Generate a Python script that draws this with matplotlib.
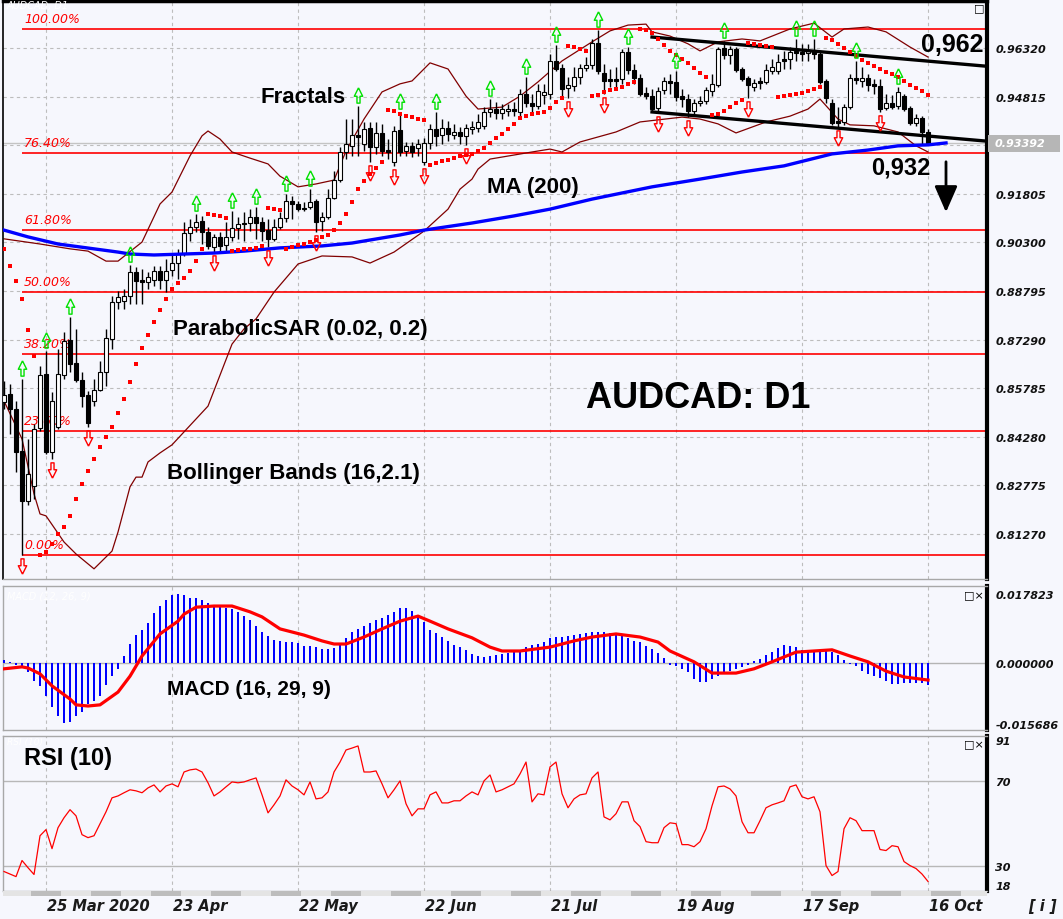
import matplotlib
matplotlib.use("Agg")
import matplotlib.pyplot as plt
import matplotlib.transforms as mtransforms
from matplotlib.path import Path
from matplotlib.patches import Rectangle, FancyArrowPatch
import numpy as np

# ---------------- data ----------------
open_ = [0.8536, 0.8560, 0.8514, 0.8384, 0.8229, 0.8276, 0.8455, 0.8622, 0.8381, 0.8458,
         0.8619, 0.8728, 0.8656, 0.8604, 0.8557, 0.8539, 0.8573, 0.8628, 0.8731, 0.8845,
         0.8848, 0.8864, 0.8938, 0.8913, 0.8907, 0.8913, 0.8941, 0.8913, 0.8944, 0.8966,
         0.8997, 0.9059, 0.9078, 0.9096, 0.9062, 0.9016, 0.9047, 0.9022, 0.9047, 0.9075,
         0.9090, 0.9090, 0.9109, 0.9093, 0.9068, 0.9041, 0.9078, 0.9106, 0.9158, 0.9149,
         0.9137, 0.9140, 0.9158, 0.9096, 0.9109, 0.9167, 0.9223, 0.9310, 0.9329, 0.9363,
         0.9335, 0.9384, 0.9325, 0.9369, 0.9316, 0.9279, 0.9378, 0.9313, 0.9329, 0.9322,
         0.9279, 0.9338, 0.9381, 0.9363, 0.9384, 0.9363, 0.9372, 0.9360, 0.9381, 0.9384,
         0.9390, 0.9434, 0.9443, 0.9431, 0.9437, 0.9443, 0.9434, 0.9490, 0.9462, 0.9452,
         0.9486, 0.9490, 0.9592, 0.9570, 0.9508, 0.9514, 0.9542, 0.9570, 0.9579, 0.9648,
         0.9555, 0.9536, 0.9536, 0.9536, 0.9620, 0.9564, 0.9539, 0.9493, 0.9483, 0.9446,
         0.9502, 0.9530, 0.9527, 0.9483, 0.9474, 0.9437, 0.9462, 0.9468, 0.9499, 0.9517,
         0.9632, 0.9610, 0.9629, 0.9567, 0.9539, 0.9511, 0.9527, 0.9527, 0.9561, 0.9561,
         0.9598, 0.9598, 0.9620, 0.9620, 0.9617, 0.9623, 0.9614, 0.9530, 0.9462, 0.9403,
         0.9403, 0.9449, 0.9539, 0.9530, 0.9539, 0.9520, 0.9514, 0.9446, 0.9462, 0.9452,
         0.9483, 0.9446, 0.9400, 0.9415, 0.9372]
high = [0.8601, 0.8591, 0.8539, 0.8607, 0.8421, 0.8468, 0.8647, 0.8694, 0.8567, 0.8700,
        0.8752, 0.8799, 0.8762, 0.8628, 0.8570, 0.8607, 0.8663, 0.8762, 0.8864, 0.8880,
        0.8886, 0.8960, 0.8954, 0.8948, 0.8938, 0.8957, 0.8957, 0.8979, 0.8994, 0.9010,
        0.9093, 0.9103, 0.9118, 0.9112, 0.9078, 0.9056, 0.9062, 0.9093, 0.9127, 0.9109,
        0.9124, 0.9133, 0.9140, 0.9109, 0.9103, 0.9103, 0.9124, 0.9180, 0.9174, 0.9158,
        0.9155, 0.9195, 0.9164, 0.9124, 0.9195, 0.9251, 0.9326, 0.9412, 0.9412, 0.9452,
        0.9403, 0.9403, 0.9403, 0.9397, 0.9350, 0.9390, 0.9434, 0.9341, 0.9341, 0.9350,
        0.9353, 0.9397, 0.9434, 0.9412, 0.9406, 0.9397, 0.9387, 0.9397, 0.9406, 0.9428,
        0.9449, 0.9474, 0.9465, 0.9458, 0.9458, 0.9465, 0.9505, 0.9542, 0.9490, 0.9521,
        0.9521, 0.9614, 0.9641, 0.9583, 0.9542, 0.9573, 0.9583, 0.9604, 0.9660, 0.9688,
        0.9583, 0.9567, 0.9573, 0.9629, 0.9635, 0.9583, 0.9552, 0.9511, 0.9505, 0.9511,
        0.9542, 0.9552, 0.9561, 0.9505, 0.9490, 0.9474, 0.9483, 0.9511, 0.9552, 0.9635,
        0.9654, 0.9638, 0.9635, 0.9573, 0.9545, 0.9536, 0.9542, 0.9583, 0.9598, 0.9614,
        0.9623, 0.9635, 0.9660, 0.9645, 0.9645, 0.9660, 0.9623, 0.9536, 0.9474, 0.9449,
        0.9458, 0.9552, 0.9592, 0.9573, 0.9552, 0.9536, 0.9536, 0.9490, 0.9486, 0.9511,
        0.9490, 0.9452, 0.9428, 0.9421, 0.9381]
low = [0.8514, 0.8437, 0.8319, 0.8062, 0.8217, 0.8235, 0.8446, 0.8375, 0.8359, 0.8452,
       0.8607, 0.8628, 0.8598, 0.8520, 0.8458, 0.8523, 0.8570, 0.8585, 0.8700, 0.8824,
       0.8824, 0.8839, 0.8839, 0.8839, 0.8886, 0.8895, 0.8886, 0.8876, 0.8926, 0.8917,
       0.8988, 0.9034, 0.9062, 0.9025, 0.9010, 0.9000, 0.9003, 0.9003, 0.9034, 0.9041,
       0.9034, 0.9065, 0.9041, 0.9034, 0.9016, 0.9034, 0.9072, 0.9093, 0.9103, 0.9127,
       0.9127, 0.9133, 0.9062, 0.9065, 0.9103, 0.9164, 0.9217, 0.9288, 0.9298, 0.9298,
       0.9313, 0.9279, 0.9304, 0.9298, 0.9288, 0.9267, 0.9298, 0.9298, 0.9295, 0.9298,
       0.9270, 0.9319, 0.9329, 0.9335, 0.9344, 0.9350, 0.9335, 0.9332, 0.9366, 0.9372,
       0.9381, 0.9418, 0.9412, 0.9412, 0.9421, 0.9421, 0.9418, 0.9449, 0.9428, 0.9443,
       0.9459, 0.9474, 0.9561, 0.9483, 0.9477, 0.9499, 0.9521, 0.9561, 0.9567, 0.9552,
       0.9490, 0.9511, 0.9511, 0.9521, 0.9552, 0.9521, 0.9483, 0.9474, 0.9434, 0.9431,
       0.9490, 0.9490, 0.9468, 0.9449, 0.9418, 0.9424, 0.9452, 0.9459, 0.9483, 0.9511,
       0.9598, 0.9583, 0.9558, 0.9530, 0.9477, 0.9499, 0.9505, 0.9521, 0.9552, 0.9552,
       0.9567, 0.9567, 0.9592, 0.9592, 0.9592, 0.9598, 0.9521, 0.9462, 0.9394, 0.9387,
       0.9394, 0.9443, 0.9521, 0.9511, 0.9499, 0.9490, 0.9434, 0.9440, 0.9443, 0.9443,
       0.9437, 0.9394, 0.9391, 0.9332, 0.9332]
close = [0.8557, 0.8514, 0.8381, 0.8229, 0.8313, 0.8452, 0.8619, 0.8381, 0.8539, 0.8622,
         0.8725, 0.8653, 0.8604, 0.8554, 0.8470, 0.8573, 0.8628, 0.8734, 0.8845, 0.8861,
         0.8864, 0.8938, 0.8910, 0.8907, 0.8923, 0.8941, 0.8913, 0.8941, 0.8966, 0.8994,
         0.9059, 0.9078, 0.9093, 0.9062, 0.9019, 0.9047, 0.9019, 0.9047, 0.9075, 0.9087,
         0.9087, 0.9109, 0.9090, 0.9065, 0.9041, 0.9078, 0.9106, 0.9158, 0.9149, 0.9133,
         0.9133, 0.9155, 0.9093, 0.9109, 0.9167, 0.9223, 0.9310, 0.9335, 0.9363, 0.9357,
         0.9381, 0.9325, 0.9369, 0.9313, 0.9310, 0.9375, 0.9310, 0.9329, 0.9310, 0.9335,
         0.9338, 0.9381, 0.9360, 0.9384, 0.9366, 0.9372, 0.9360, 0.9384, 0.9387, 0.9403,
         0.9434, 0.9443, 0.9431, 0.9443, 0.9443, 0.9437, 0.9490, 0.9462, 0.9452, 0.9499,
         0.9496, 0.9592, 0.9567, 0.9505, 0.9517, 0.9542, 0.9570, 0.9579, 0.9648, 0.9561,
         0.9530, 0.9530, 0.9530, 0.9620, 0.9564, 0.9539, 0.9490, 0.9483, 0.9443, 0.9499,
         0.9530, 0.9524, 0.9480, 0.9474, 0.9437, 0.9462, 0.9468, 0.9502, 0.9521, 0.9629,
         0.9610, 0.9629, 0.9564, 0.9536, 0.9517, 0.9524, 0.9524, 0.9564, 0.9573, 0.9589,
         0.9592, 0.9620, 0.9617, 0.9614, 0.9623, 0.9614, 0.9527, 0.9477, 0.9400, 0.9400,
         0.9449, 0.9539, 0.9533, 0.9539, 0.9517, 0.9514, 0.9443, 0.9462, 0.9449, 0.9496,
         0.9443, 0.9400, 0.9415, 0.9372, 0.9339]

sar = [0.9010, 0.8957, 0.8911, 0.8855, 0.8759, 0.8678,
       0.8062, 0.8071, 0.8096, 0.8127, 0.8149, 0.8183, 0.8235, 0.8282, 0.8322, 0.8359,
       0.8396, 0.8427, 0.8458, 0.8502, 0.8545, 0.8598, 0.8653, 0.8703, 0.8743, 0.8783,
       0.8821, 0.8855, 0.8886, 0.8904, 0.8920, 0.8941, 0.8972, 0.9010,
       0.9118, 0.9115, 0.9112, 0.9106,
       0.9003, 0.9007, 0.9010, 0.9010, 0.9013, 0.9019,
       0.9137, 0.9133, 0.9130,
       0.9010, 0.9016, 0.9022, 0.9025, 0.9031, 0.9037, 0.9047, 0.9053, 0.9068, 0.9090,
       0.9118, 0.9155, 0.9195, 0.9220, 0.9242, 0.9260, 0.9279,
       0.9440, 0.9437, 0.9428, 0.9421, 0.9418, 0.9412, 0.9409,
       0.9270, 0.9276, 0.9282, 0.9285, 0.9291, 0.9298, 0.9301, 0.9304, 0.9313, 0.9322,
       0.9338, 0.9353, 0.9366, 0.9381, 0.9397, 0.9415, 0.9421, 0.9428, 0.9431, 0.9434,
       0.9446, 0.9465, 0.9477,
       0.9638, 0.9635, 0.9629, 0.9623,
       0.9483, 0.9486, 0.9496, 0.9502, 0.9505, 0.9511, 0.9521, 0.9527,
       0.9691, 0.9688, 0.9679, 0.9660, 0.9641, 0.9623, 0.9610, 0.9598, 0.9586, 0.9570,
       0.9555, 0.9542,
       0.9425, 0.9428, 0.9437, 0.9449, 0.9462, 0.9471,
       0.9647, 0.9644, 0.9641, 0.9638, 0.9635,
       0.9480, 0.9483, 0.9486, 0.9490, 0.9493, 0.9499, 0.9505, 0.9511,
       0.9663, 0.9657, 0.9644, 0.9632, 0.9620, 0.9607, 0.9595, 0.9586, 0.9576, 0.9567,
       0.9558, 0.9551, 0.9542, 0.9530, 0.9517, 0.9508, 0.9499, 0.9486]

bb_up_idx = [0, 6, 11, 14, 17, 19, 23, 26, 28, 31, 33, 34, 36, 38, 41, 44, 46, 49, 52, 55,
             57, 60, 63, 66, 68, 71, 74, 77, 79, 83, 86, 89, 93, 98, 101, 104, 107, 108, 111,
             114, 116, 119, 123, 126, 131, 135, 138, 140, 144, 147, 151, 154]
bb_up = [0.9041, 0.9025, 0.9010, 0.9003, 0.8972, 0.8972, 0.9031, 0.9149, 0.9186, 0.9298,
         0.9360, 0.9375, 0.9350, 0.9310, 0.9291, 0.9273, 0.9235, 0.9202, 0.9211, 0.9223,
         0.9313, 0.9412, 0.9496, 0.9521, 0.9530, 0.9586, 0.9567, 0.9483, 0.9443, 0.9449,
         0.9483, 0.9527, 0.9592, 0.9651, 0.9685, 0.9703, 0.9706, 0.9682, 0.9669, 0.9645,
         0.9623, 0.9651, 0.9660, 0.9654, 0.9691, 0.9709, 0.9666, 0.9691, 0.9697, 0.9682,
         0.9635, 0.9604]
bb_lo_idx = [0, 3, 5, 6, 7, 10, 12, 15, 18, 19, 21, 22, 23, 24, 26, 28, 30, 34, 38, 40,
             42, 45, 49, 53, 58, 61, 65, 70, 74, 76, 78, 79, 81, 88, 91, 93, 96, 102, 106,
             113, 116, 119, 122, 127, 131, 134, 136, 139, 141, 145, 149, 152, 154]
bb_lo = [0.8539, 0.8421, 0.8251, 0.8189, 0.8183, 0.8102, 0.8065, 0.8019, 0.8074, 0.8133,
         0.8273, 0.8303, 0.8303, 0.8350, 0.8378, 0.8403, 0.8443, 0.8523, 0.8715, 0.8762,
         0.8793, 0.8876, 0.8963, 0.8988, 0.8985, 0.8966, 0.9000, 0.9065, 0.9133, 0.9195,
         0.9226, 0.9257, 0.9288, 0.9310, 0.9319, 0.9310, 0.9341, 0.9372, 0.9403, 0.9418,
         0.9412, 0.9397, 0.9369, 0.9403, 0.9421, 0.9443, 0.9474, 0.9412, 0.9394, 0.9391,
         0.9372, 0.9329, 0.9310]
ma_idx = [0, 4, 9, 15, 19, 21, 25, 30, 35, 40, 46, 53, 58, 66, 70, 78, 85, 91, 98, 108,
          116, 123, 130, 138, 144, 149, 154, 157]
ma_val = [0.9068, 0.9047, 0.9025, 0.9010, 0.9000, 0.8994, 0.8991, 0.8994, 0.8997, 0.9003,
          0.9013, 0.9019, 0.9028, 0.9053, 0.9068, 0.9090, 0.9112, 0.9133, 0.9164, 0.9202,
          0.9226, 0.9248, 0.9267, 0.9304, 0.9316, 0.9329, 0.9332, 0.9338]

fract_up_idx = [3, 7, 11, 21, 32, 38, 42, 47, 51, 59, 66, 72, 81, 87, 92, 99, 104, 112,
                120, 132, 135, 142, 149]
fract_dn_idx = [3, 8, 14, 35, 44, 52, 61, 65, 70, 77, 94, 100, 109, 114, 124, 139, 146]

fib_levels = [0.9691, 0.9307, 0.9068, 0.8876, 0.8684, 0.8446, 0.8062]
fib_labels = ["100.00%", "76.40%", "61.80%", "50.00%", "38.20%", "23.60%", "0.00%"]
fib_start = 3

trend_up_x = [108, 163.5]
trend_up_y = [0.9666, 0.9576]
trend_lo_x = [108, 163.5]
trend_lo_y = [0.9434, 0.9344]
last_price = 0.93392

macd_hist = [0.0008, 0.0002, -0.0005, -0.0010, -0.0023, -0.0046, -0.0059, -0.0085, -0.0114, -0.0137,
             -0.0155, -0.0152, -0.0137, -0.0126, -0.0106, -0.0098, -0.0085, -0.0057, -0.0034, -0.0015,
             0.0018, 0.0049, 0.0072, 0.0085, 0.0103, 0.0129, 0.0147, 0.0163, 0.0175, 0.0178,
             0.0175, 0.0168, 0.0168, 0.0163, 0.0155, 0.0150, 0.0147, 0.0142, 0.0139, 0.0132,
             0.0121, 0.0111, 0.0095, 0.0080, 0.0070, 0.0059, 0.0057, 0.0054, 0.0054, 0.0052,
             0.0044, 0.0044, 0.0041, 0.0036, 0.0036, 0.0039, 0.0049, 0.0065, 0.0080, 0.0088,
             0.0095, 0.0103, 0.0111, 0.0116, 0.0124, 0.0132, 0.0142, 0.0142, 0.0134, 0.0121,
             0.0106, 0.0085, 0.0077, 0.0067, 0.0057, 0.0046, 0.0041, 0.0034, 0.0023, 0.0018,
             0.0015, 0.0018, 0.0021, 0.0023, 0.0026, 0.0028, 0.0034, 0.0041, 0.0046, 0.0049,
             0.0054, 0.0065, 0.0067, 0.0067, 0.0070, 0.0072, 0.0075, 0.0077, 0.0080, 0.0080,
             0.0080, 0.0077, 0.0077, 0.0072, 0.0065, 0.0057, 0.0054, 0.0044, 0.0036, 0.0026,
             0.0013, -0.0005, -0.0008, -0.0015, -0.0023, -0.0041, -0.0049, -0.0049, -0.0041, -0.0034,
             -0.0026, -0.0021, -0.0015, -0.0010, -0.0005, 0.0005, 0.0010, 0.0021, 0.0028, 0.0039,
             0.0046, 0.0044, 0.0041, 0.0034, 0.0031, 0.0031, 0.0028, 0.0031, 0.0028, 0.0021,
             0.0008, -0.0003, -0.0008, -0.0021, -0.0028, -0.0034, -0.0039, -0.0046, -0.0054, -0.0054,
             -0.0052, -0.0052, -0.0052, -0.0052, -0.0057]
macd_sig_idx = [0, 3, 4, 6, 8, 11, 12, 14, 16, 19, 21, 23, 26, 29, 30, 32, 35, 38, 41, 43,
                46, 50, 53, 55, 57, 60, 63, 66, 69, 71, 74, 78, 81, 83, 86, 91, 95, 98, 102,
                106, 109, 111, 115, 118, 122, 125, 128, 132, 135, 138, 141, 144, 147, 150, 154]
macd_sig = [-0.0015, -0.0010, -0.0013, -0.0028, -0.0059, -0.0093, -0.0108, -0.0111, -0.0108,
            -0.0075, -0.0034, 0.0018, 0.0075, 0.0108, 0.0126, 0.0144, 0.0147, 0.0147, 0.0132,
            0.0119, 0.0088, 0.0072, 0.0057, 0.0049, 0.0049, 0.0067, 0.0088, 0.0108, 0.0121,
            0.0108, 0.0088, 0.0065, 0.0041, 0.0031, 0.0031, 0.0041, 0.0057, 0.0067, 0.0075,
            0.0067, 0.0054, 0.0031, 0.0003, -0.0026, -0.0026, -0.0015, 0.0003, 0.0028, 0.0031,
            0.0034, 0.0018, 0.0003, -0.0021, -0.0036, -0.0044]

rsi = [27.2, 26.0, 24.8, 32.4, 29.0, 25.8, 44.1, 47.0, 38.0, 47.9,
       52.6, 56.4, 53.5, 44.6, 43.2, 44.1, 49.8, 55.4, 62.0, 62.9,
       64.4, 65.8, 65.3, 64.4, 66.7, 68.1, 64.8, 67.6, 68.6, 67.2,
       74.2, 75.2, 75.6, 74.2, 69.1, 62.9, 64.8, 67.2, 69.5, 69.1,
       69.5, 70.5, 71.4, 63.4, 54.9, 58.7, 62.9, 70.5, 67.6, 65.8,
       63.4, 69.5, 61.5, 62.0, 64.8, 74.2, 78.9, 84.6, 85.5, 86.5,
       74.2, 74.2, 74.7, 68.6, 62.0, 65.8, 70.0, 59.2, 53.5, 56.8,
       56.8, 63.4, 64.8, 59.6, 59.6, 60.6, 60.6, 62.9, 64.8, 63.4,
       70.0, 72.8, 64.8, 65.8, 67.2, 68.6, 73.3, 78.9, 60.1, 63.9,
       63.4, 76.6, 78.9, 63.9, 57.3, 61.5, 63.4, 63.9, 71.4, 74.2,
       53.0, 51.6, 54.5, 60.1, 60.1, 51.2, 48.4, 41.3, 40.8, 40.8,
       47.9, 50.2, 49.8, 39.9, 39.9, 38.9, 41.3, 47.4, 58.2, 67.2,
       67.6, 66.2, 62.9, 50.7, 45.5, 45.5, 51.2, 57.3, 58.7, 59.6,
       60.6, 67.2, 68.1, 62.5, 61.5, 62.5, 55.4, 30.0, 25.3, 27.2,
       47.4, 52.6, 51.2, 46.5, 46.5, 46.5, 37.6, 37.1, 39.4, 38.9,
       31.9, 30.0, 28.6, 26.0, 22.5]

date_idx = [7, 28, 49, 70, 91, 112, 133, 154]
date_labels = ["25 Mar 2020", "23 Apr", "22 May", "22 Jun", "21 Jul", "19 Aug", "17 Sep", "16 Oct"]
price_ticks = [0.96320, 0.94815, 0.91805, 0.90300, 0.88795, 0.87290, 0.85785, 0.84280, 0.82775, 0.81270]
price_grid = [0.96320, 0.94815, 0.93310, 0.91805, 0.90300, 0.88795, 0.87290, 0.85785, 0.84280, 0.82775, 0.81270]
macd_ticks = [0.017823, 0.0, -0.015686]
macd_tick_labels = ["0.017823", "0.000000", "-0.015686"]
rsi_ticks = [91, 70, 30, 18]
rsi_levels = [70, 30]

# ---------------- figure ----------------
W, H = 1063, 920
BG = '#F6F7FD'
fig = plt.figure(figsize=(W / 100, H / 100), dpi=100, facecolor=BG)


def rect(x0, y0, x1, y1):
    return [x0 / W, 1 - y1 / H, (x1 - x0) / W, (y1 - y0) / H]


def ftext(x, y, s, **kw):
    return fig.text(x / W, 1 - y / H, s, **kw)


ax = fig.add_axes(rect(3, 2, 987, 580))
axm = fig.add_axes(rect(3, 587, 987, 731))
axr = fig.add_axes(rect(3, 737, 987, 892))
axs = fig.add_axes(rect(3, 892, 987, 897))

XL = (-0.17, 163.83)
n = len(close)
x = np.arange(n)
o = np.array(open_); h = np.array(high); l = np.array(low); c = np.array(close)

GRID = dict(color='#BDBDBD', lw=0.8, ls=(0, (3, 3)), zorder=0.5)

# ---- main panel ----
ax.set_facecolor(BG)
ax.set_xlim(*XL)
ax.set_ylim(0.79875, 0.97776)
for g in price_grid:
    ax.axhline(g, **GRID)
for d in date_idx:
    ax.axvline(d, **GRID)
ax.axhline(last_price, color='#C4C4C4', lw=1.0, zorder=0.8)

ax.hlines(fib_levels, fib_start, XL[1], color='#FF0000', lw=1.2, zorder=1.5)
for lev, lab in zip(fib_levels, fib_labels):
    ax.annotate(lab, (fib_start + 0.35, lev), xytext=(0, 3), textcoords='offset points',
                color='#FF0000', fontsize=9, style='italic', va='bottom', ha='left', zorder=2)

ax.plot(bb_up_idx, bb_up, color='#800000', lw=0.9, zorder=2.5)
ax.plot(bb_lo_idx, bb_lo, color='#800000', lw=0.9, zorder=2.5)

ax.vlines(x, l, h, color='black', lw=1.0, zorder=3)
bull = c >= o
body_h = np.abs(c - o)
mid = (c + o) / 2
body_h2 = np.maximum(body_h, 0.0006)
ax.bar(x, body_h2, bottom=mid - body_h2 / 2, width=0.66,
       color=np.where(bull, 'white', 'black'), edgecolor='black', linewidth=0.8, zorder=4)

ax.plot(ma_idx, ma_val, color='#0000FF', lw=2.4, zorder=5)
ax.plot(trend_up_x, trend_up_y, color='black', lw=2.4, zorder=5.5)
ax.plot(trend_lo_x, trend_lo_y, color='black', lw=2.4, zorder=5.5)
ax.plot(x, sar, ls='none', marker='s', ms=2.7, mew=0, color='#FF0000', zorder=6)

up_path = Path([(0, 1), (-0.55, -0.1), (-0.2, -0.1), (-0.2, -1), (0.2, -1), (0.2, -0.1), (0.55, -0.1), (0, 1)])
dn_path = Path([(0, -1), (-0.55, 0.1), (-0.2, 0.1), (-0.2, 1), (0.2, 1), (0.2, 0.1), (0.55, 0.1), (0, -1)])
tr_up = mtransforms.offset_copy(ax.transData, fig=fig, x=0, y=11, units='dots')
tr_dn = mtransforms.offset_copy(ax.transData, fig=fig, x=0, y=-11, units='dots')
ax.plot(fract_up_idx, h[fract_up_idx], ls='none', marker=up_path, ms=11, mfc='none',
        mec='#00E000', mew=1.0, transform=tr_up, zorder=6)
ax.plot(fract_dn_idx, l[fract_dn_idx], ls='none', marker=dn_path, ms=11, mfc='none',
        mec='#FF0000', mew=1.0, transform=tr_dn, zorder=6)

ax.set_xticks([])
ax.yaxis.tick_right()
ax.set_yticks(price_ticks)
ax.set_yticklabels([f"{v:.5f}" for v in price_ticks])
ax.tick_params(axis='y', length=0, pad=6, labelsize=8, colors='#111111')
for t in ax.get_yticklabels():
    t.set_fontstyle('italic'); t.set_fontweight('bold')
ax.spines['top'].set_color('black'); ax.spines['top'].set_linewidth(2.5)
ax.spines['right'].set_color('black'); ax.spines['right'].set_linewidth(3)
ax.spines['left'].set_color('black'); ax.spines['left'].set_linewidth(1.2)
ax.spines['bottom'].set_color('#A8A8A8'); ax.spines['bottom'].set_linewidth(1)

# current price box
fig.add_artist(Rectangle((988 / W, 1 - 153 / H), 72 / W, 17 / H, transform=fig.transFigure,
                         facecolor='#B6B6B6', edgecolor='none'))
ftext(995, 144.5, f"{last_price:.5f}", color='white', fontsize=8, style='italic',
      fontweight='bold', va='center', ha='left')

# ---- MACD panel ----
axm.set_facecolor(BG)
axm.set_xlim(*XL)
axm.set_ylim(-0.01729, 0.01987)
for d in date_idx:
    axm.axvline(d, **GRID)
axm.axhline(0, color='#B4B4B4', lw=1.0, zorder=1)
axm.bar(x, macd_hist, width=0.3, color='#0000FF', zorder=3)
axm.plot(macd_sig_idx, macd_sig, color='#FF0000', lw=2.3, zorder=4)
axm.set_xticks([])
axm.yaxis.tick_right()
axm.set_yticks(macd_ticks)
axm.set_yticklabels(macd_tick_labels)
axm.tick_params(axis='y', length=0, pad=6, labelsize=8, colors='#111111')
for t in axm.get_yticklabels():
    t.set_fontstyle('italic'); t.set_fontweight('bold')

# ---- RSI panel ----
axr.set_facecolor(BG)
axr.set_xlim(*XL)
axr.set_ylim(18.2, 91.2)
for d in date_idx:
    axr.axvline(d, **GRID)
for lv in rsi_levels:
    axr.axhline(lv, color='#B8B8B8', lw=1.0, zorder=1)
axr.plot(x, rsi, color='#FF0000', lw=0.9, zorder=3)
axr.set_xticks([])
axr.yaxis.tick_right()
axr.set_yticks(rsi_ticks)
axr.set_yticklabels([str(v) for v in rsi_ticks])
axr.tick_params(axis='y', length=0, pad=6, labelsize=8, colors='#111111')
for t in axr.get_yticklabels():
    t.set_fontstyle('italic'); t.set_fontweight('bold')
labs = axr.get_yticklabels()
labs[0].set_va('top'); labs[-1].set_va('bottom')

for a in (axm, axr):
    for s in ('top', 'left', 'bottom'):
        a.spines[s].set_color('#A8A8A8'); a.spines[s].set_linewidth(1)
    a.spines['right'].set_color('black'); a.spines['right'].set_linewidth(3)

# ---- bottom week strip ----
axs.set_xlim(*XL); axs.set_ylim(0, 1)
axs.axis('off')
for k in range(0, 34):
    axs.add_patch(Rectangle((5 * k - 0.5, 0), 5, 1,
                            facecolor='#BDBDBD' if k % 2 else '#E4E4E4', edgecolor='none'))

# date labels
for d, s in zip(date_idx, date_labels):
    ftext(4 + 6 * d + 1, 907, s, fontsize=10.5, style='italic', fontweight='bold',
          color='#1A1A1A', ha='left', va='center')
ftext(1028, 907, "[ i ]", fontsize=10.5, style='italic', fontweight='bold', color='#1A1A1A',
      ha='left', va='center')

# ---- annotations ----
BOLD = dict(family='Liberation Sans', fontweight='bold', color='black', ha='center', va='center', zorder=10)
ftext(303, 98, "Fractals", fontsize=16, **BOLD)
ftext(533, 188, "MA (200)", fontsize=16, **BOLD)
ftext(300, 330, "ParabolicSAR (0.02, 0.2)", fontsize=16, **BOLD)
ftext(293, 474, "Bollinger Bands (16,2.1)", fontsize=16, **BOLD)
ftext(698, 399, "AUDCAD: D1", fontsize=26, **BOLD)
ftext(952, 45, "0,962", fontsize=18, **BOLD)
ftext(901, 168, "0,932", fontsize=17, **BOLD)
ftext(249, 690, "MACD (16, 29, 9)", fontsize=15, **BOLD)
ftext(68, 759, "RSI (10)", fontsize=17, **BOLD)

# faint panel captions (white, as in the reference)
ftext(7, 6, "AUDCAD, D1", fontsize=7, style='italic', color='white', va='center')
ftext(7, 597, "MACD (12, 26, 9)", fontsize=7, style='italic', color='white', va='center')
ftext(7, 743, "RSI (10)", fontsize=6.5, style='italic', color='white', va='center')

# small window icons
ftext(974, 8, "\u25a1", fontsize=8, color='black', va='center')
ftext(964, 595, "\u25a1\u00d7", fontsize=8, color='black', va='center')
ftext(964, 744, "\u25a1\u00d7", fontsize=8, color='black', va='center')

# down arrow
fig.add_artist(FancyArrowPatch(
    (946 / W, 1 - 160 / H), (946 / W, 1 - 216 / H), transform=fig.transFigure,
    arrowstyle='-|>,head_length=0.8,head_width=0.35', mutation_scale=20,
    color='black', lw=2))

fig.savefig("out.png", dpi=100, facecolor=BG)
